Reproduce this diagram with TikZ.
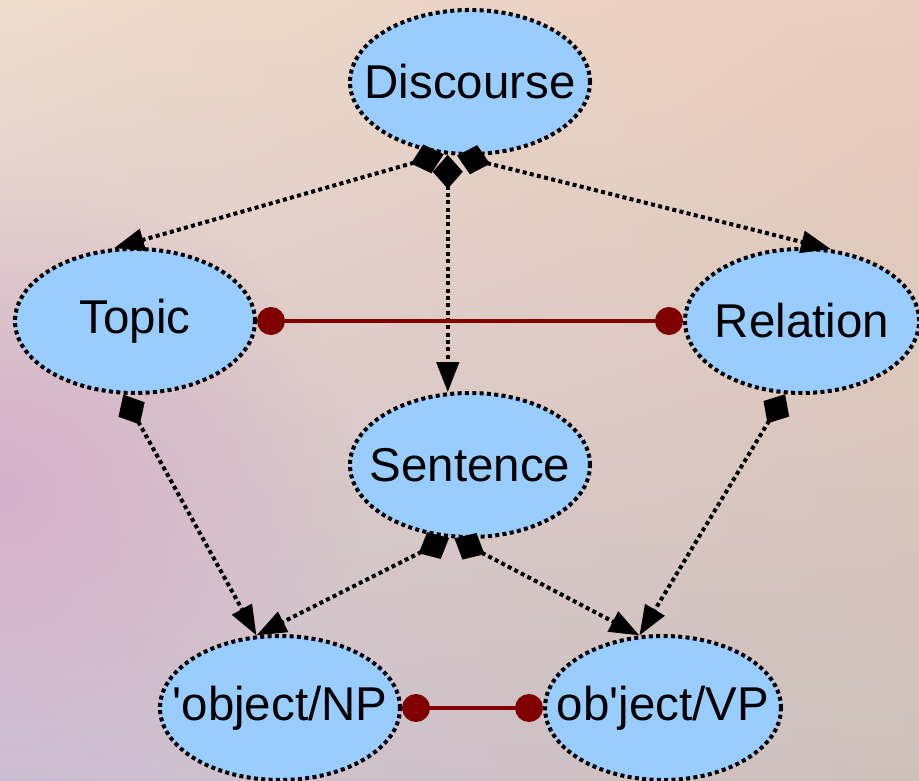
\documentclass[tikz,border=0pt]{standalone}
\usepackage{fontspec}
\setmainfont{Liberation Sans}
\usepackage{xcolor}
\usetikzlibrary{arrows.meta,fadings,shadings,shapes.geometric}
\definecolor{lgFill}{HTML}{99CCFF}
\definecolor{lgTie}{HTML}{800000}
\definecolor{lgBgTL}{RGB}{237,219,204}
\definecolor{lgBgTR}{RGB}{234,205,190}
\definecolor{lgBgBL}{RGB}{204,192,212}
\definecolor{lgBgBR}{RGB}{206,193,187}
\definecolor{lgBgRose}{RGB}{212,176,200}
\tikzfading[name=lg glow, inner color=transparent!0, outer color=transparent!100]
\tikzset{
  lg diagram/.style={font=\fontsize{13.5}{16}\selectfont},
  lg dots/.style={line width=1.14pt, dash pattern=on 1.14pt off 0.95pt},
  lg node/.style={ellipse, draw=black, fill=lgFill, lg dots,
    minimum width=2.4cm, minimum height=1.44cm, inner xsep=-0.25cm, inner ysep=0pt},
  lg arrow/.style={lg dots,
    {Diamond[length=3.4mm,width=3mm]}-{Triangle[length=3mm,width=2.2mm]}},
  lg tie/.style={draw=lgTie, line width=1pt,
    {Circle[length=2.8mm]}-{Circle[length=2.8mm]}}
}

\begin{document}
\begin{tikzpicture}[lg diagram]
\useasboundingbox (0,0) rectangle (9.19,7.80);
% background
\shade[upper left=lgBgTL, upper right=lgBgTR, lower left=lgBgBL, lower right=lgBgBR]
  (0,0) rectangle (9.19,7.80);
\fill[lgBgRose, path fading=lg glow] (0,2.9) ellipse (3.6 and 3.2);
% nodes
\node[lg node] (disc) at (4.70,6.98) {Discourse};
\node[lg node] (topic) at (1.35,4.59) {Topic};
\node[lg node, minimum width=2.34cm] (rel) at (8.02,4.59) {Relation};
\node[lg node] (sent) at (4.70,3.15) {Sentence};
\node[lg node] (np) at (2.80,0.72) {\textquotesingle object/NP};
\node[lg node, minimum width=2.36cm] (vp) at (6.63,0.72) {ob\textquotesingle ject/VP};
% links
\draw[lg arrow] (disc.-110) -- (topic.106);
\draw[lg arrow] (disc.-107) -- (sent.107.7);
\draw[lg arrow] (disc.-100) -- (rel.68.5);
\draw[lg arrow] (topic.-99) -- (np.108.7);
\draw[lg arrow] (rel.-103) -- (vp.108);
\draw[lg arrow] (sent.-106) -- (np.108.7);
\draw[lg arrow] (sent.-102) -- (vp.108);
\draw[lg tie] (topic) -- (rel);
\draw[lg tie] (np) -- (vp);
\end{tikzpicture}
\end{document}
